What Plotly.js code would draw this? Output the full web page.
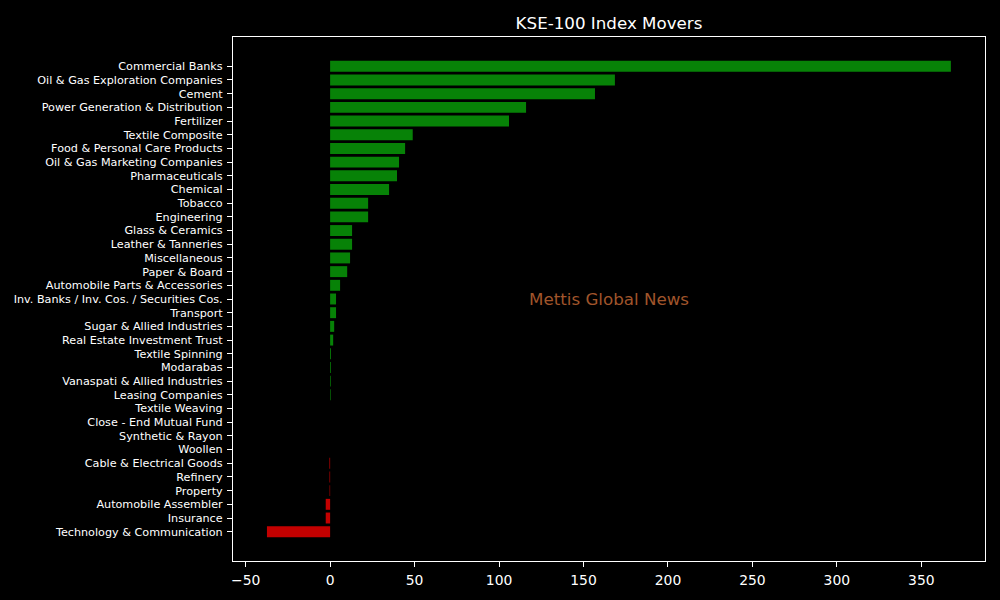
<!DOCTYPE html>
<html>
<head>
<meta charset="utf-8">
<script src="https://cdn.plot.ly/plotly-3.0.1.min.js"></script>
<style>html,body{margin:0;padding:0;background:#000;}#chart{width:1000px;height:600px;}</style>
</head>
<body>
<div id="chart"></div>
<script>
const sectors = [
  "Commercial Banks",
  "Oil & Gas Exploration Companies",
  "Cement",
  "Power Generation & Distribution",
  "Fertilizer",
  "Textile Composite",
  "Food & Personal Care Products",
  "Oil & Gas Marketing Companies",
  "Pharmaceuticals",
  "Chemical",
  "Tobacco",
  "Engineering",
  "Glass & Ceramics",
  "Leather & Tanneries",
  "Miscellaneous",
  "Paper & Board",
  "Automobile Parts & Accessories",
  "Inv. Banks / Inv. Cos. / Securities Cos.",
  "Transport",
  "Sugar & Allied Industries",
  "Real Estate Investment Trust",
  "Textile Spinning",
  "Modarabas",
  "Vanaspati & Allied Industries",
  "Leasing Companies",
  "Textile Weaving",
  "Close - End Mutual Fund",
  "Synthetic & Rayon",
  "Woollen",
  "Cable & Electrical Goods",
  "Refinery",
  "Property",
  "Automobile Assembler",
  "Insurance",
  "Technology & Communication"
];
const points = [
  367.5, 168.6, 156.8, 116.0, 105.9,
  48.9, 44.4, 40.8, 39.6, 34.9,
  22.5, 22.5, 13.0, 13.0, 11.8,
  10.1, 5.9, 3.5, 3.5, 2.4,
  1.8, 0.5, 0.45, 0.4, 0.35,
  0, 0, 0, 0,
  -0.4, -0.35, -0.3, -2.6, -2.6, -37.4
];
const xTicks = [-50, 0, 50, 100, 150, 200, 250, 300, 350];

const colors = points.map(v => v >= 0 ? '#078207' : '#c30000');

const trace = {
  type: 'bar',
  orientation: 'h',
  x: points,
  y: sectors,
  marker: {color: colors, line: {width: 0}},
  hoverinfo: 'x+y'
};

const layout = {
  width: 1000,
  height: 600,
  paper_bgcolor: '#000',
  plot_bgcolor: '#000',
  font: {family: 'DejaVu Sans', color: '#fff'},
  margin: {l: 233, r: 15, t: 37, b: 39, pad: 0},
  bargap: 0.2,
  showlegend: false,
  title: {
    text: 'KSE-100 Index Movers',
    font: {size: 16.7, color: '#fff', family: 'DejaVu Sans'},
    xref: 'paper', x: 0.5, xanchor: 'center',
    yref: 'container', y: 1 - 23/600, yanchor: 'middle'
  },
  xaxis: {
    range: [-57.5, 387.7],
    tickmode: 'array',
    tickvals: xTicks,
    ticktext: xTicks.map(v => v < 0 ? '\u2212' + Math.abs(v) : String(v)),
    ticks: 'outside', ticklen: 5, tickwidth: 1, tickcolor: '#fff',
    tickfont: {size: 13.9, color: '#fff'},
    ticklabelstandoff: 1,
    showgrid: false, zeroline: false,
    showline: true, mirror: true, linecolor: '#fff', linewidth: 1.1
  },
  yaxis: {
    type: 'category',
    range: [sectors.length - 1 + 2.14, -2.14],
    tickmode: 'array',
    tickvals: sectors,
    ticktext: sectors,
    ticks: 'outside', ticklen: 5, tickwidth: 1, tickcolor: '#fff',
    tickfont: {size: 11.2, color: '#fff'},
    ticklabelstandoff: 2,
    showgrid: false, zeroline: false,
    showline: true, mirror: true, linecolor: '#fff', linewidth: 1.1
  },
  annotations: [{
    text: 'Mettis Global News',
    xref: 'paper', yref: 'paper', x: 0.5, y: 0.5,
    xanchor: 'center', yanchor: 'middle',
    showarrow: false,
    font: {size: 16.7, color: '#a0552b', family: 'DejaVu Sans'}
  }]
};

Plotly.newPlot('chart', [trace], layout, {staticPlot: true, displayModeBar: false});
</script>
</body>
</html>
